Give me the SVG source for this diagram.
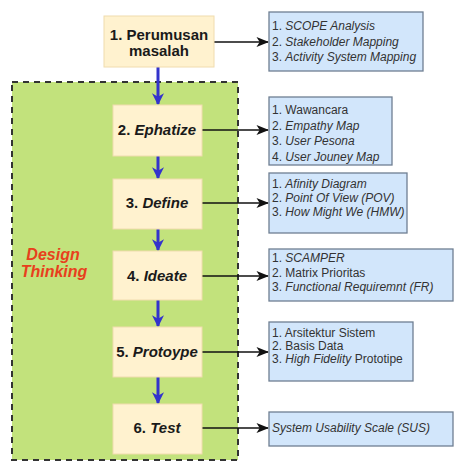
<svg xmlns="http://www.w3.org/2000/svg" width="454" height="461" viewBox="0 0 454 461">
<defs>
<style>
.step{fill:#fff2cf;stroke:#f0dcae;stroke-width:1}
.lst{fill:#d2e6fb;stroke:#6f7f92;stroke-width:1.3}
.st{font-family:"Liberation Sans",Arial,sans-serif;font-weight:bold;font-size:15px;fill:#1a1a1a;text-anchor:middle}
.it{font-style:italic}
.li{font-family:"Liberation Sans",Arial,sans-serif;font-size:12px;fill:#333}
.bl{stroke:#3333cc;stroke-width:3;fill:none}
.bk{stroke:#111;stroke-width:1.6;fill:none}
</style>
<marker id="ab" viewBox="0 0 10 10" refX="9" refY="5" markerWidth="4" markerHeight="4" orient="auto" markerUnits="strokeWidth"><path d="M0,0 L10,5 L0,10 L3,5 z" fill="#3333cc"/></marker>
<marker id="ak" viewBox="0 0 10 10" refX="9" refY="5" markerWidth="8" markerHeight="8" orient="auto" markerUnits="strokeWidth"><path d="M0,1 L10,5 L0,9 L2.5,5 z" fill="#111"/></marker>
</defs>
<rect width="454" height="461" fill="#fff"/>
<g id="design-thinking">
<rect x="12" y="82" width="226" height="378" fill="#c2e27c" stroke="#333" stroke-width="2" stroke-dasharray="6,5"/>
<text x="53" y="260" font-family="Liberation Sans,Arial,sans-serif" font-weight="bold" font-style="italic" font-size="16px" fill="#e8401c" text-anchor="middle">Design</text>
<text x="54" y="277" font-family="Liberation Sans,Arial,sans-serif" font-weight="bold" font-style="italic" font-size="16px" fill="#e8401c" text-anchor="middle">Thinking</text>
</g>
<g id="connectors">
<path class="bl" d="M158 67 V104" marker-end="url(#ab)"/>
<path class="bl" d="M158 156 V178" marker-end="url(#ab)"/>
<path class="bl" d="M158 229 V250" marker-end="url(#ab)"/>
<path class="bl" d="M158 300 V326" marker-end="url(#ab)"/>
<path class="bl" d="M158 377 V403" marker-end="url(#ab)"/>
<path class="bk" d="M214 42 H268" marker-end="url(#ak)"/>
<path class="bk" d="M202 130 H268" marker-end="url(#ak)"/>
<path class="bk" d="M202 203 H268" marker-end="url(#ak)"/>
<path class="bk" d="M202 276 H268" marker-end="url(#ak)"/>
<path class="bk" d="M202 352 H268" marker-end="url(#ak)"/>
<path class="bk" d="M202 428 H268" marker-end="url(#ak)"/>
</g>
<g id="n1">
<rect class="step" x="104" y="16" width="110" height="51"/>
<text class="st" x="159" y="40">1. Perumusan</text>
<text class="st" x="159" y="56">masalah</text>
</g>
<g id="n2">
<rect class="step" x="113" y="105" width="89" height="51"/>
<text class="st" x="157" y="135">2. <tspan class="it">Ephatize</tspan></text>
</g>
<g id="n3">
<rect class="step" x="113" y="179" width="89" height="50"/>
<text class="st" x="157" y="208">3. <tspan class="it">Define</tspan></text>
</g>
<g id="n4">
<rect class="step" x="113" y="251" width="89" height="49"/>
<text class="st" x="157" y="281">4. <tspan class="it">Ideate</tspan></text>
</g>
<g id="n5">
<rect class="step" x="113" y="327" width="89" height="50"/>
<text class="st" x="157" y="357">5. <tspan class="it">Protoype</tspan></text>
</g>
<g id="n6">
<rect class="step" x="113" y="404" width="89" height="50"/>
<text class="st" x="157" y="433">6. <tspan class="it">Test</tspan></text>
</g>
<g id="l1">
<rect class="lst" x="269" y="12" width="154" height="59"/>
<text class="li" x="272" y="30">1. <tspan class="it">SCOPE Analysis</tspan></text>
<text class="li" x="272" y="46">2. <tspan class="it">Stakeholder Mapping</tspan></text>
<text class="li" x="272" y="61">3. <tspan class="it">Activity System Mapping</tspan></text>
</g>
<g id="l2">
<rect class="lst" x="269" y="97" width="123" height="68"/>
<text class="li" x="272" y="114">1. Wawancara</text>
<text class="li" x="272" y="130">2. <tspan class="it">Empathy Map</tspan></text>
<text class="li" x="272" y="145">3. <tspan class="it">User Pesona</tspan></text>
<text class="li" x="272" y="161">4. <tspan class="it">User Jouney Map</tspan></text>
</g>
<g id="l3">
<rect class="lst" x="269" y="173" width="138" height="60"/>
<text class="li" x="272" y="188">1. <tspan class="it">Afinity Diagram</tspan></text>
<text class="li" x="272" y="202">2. <tspan class="it">Point Of View (POV)</tspan></text>
<text class="li" x="272" y="216">3. <tspan class="it">How Might We (HMW)</tspan></text>
</g>
<g id="l4">
<rect class="lst" x="269" y="249" width="184" height="52"/>
<text class="li" x="272" y="262">1. <tspan class="it">SCAMPER</tspan></text>
<text class="li" x="272" y="277">2. Matrix Prioritas</text>
<text class="li" x="272" y="291">3. <tspan class="it">Functional Requiremnt (FR)</tspan></text>
</g>
<g id="l5">
<rect class="lst" x="269" y="322" width="144" height="59"/>
<text class="li" x="272" y="337">1. Arsitektur Sistem</text>
<text class="li" x="272" y="350">2. Basis Data</text>
<text class="li" x="272" y="363">3. <tspan class="it">High Fidelity</tspan> Prototipe</text>
</g>
<g id="l6">
<rect class="lst" x="269" y="412" width="184" height="34"/>
<text class="li it" x="272" y="432">System Usability Scale (SUS)</text>
</g>
</svg>
